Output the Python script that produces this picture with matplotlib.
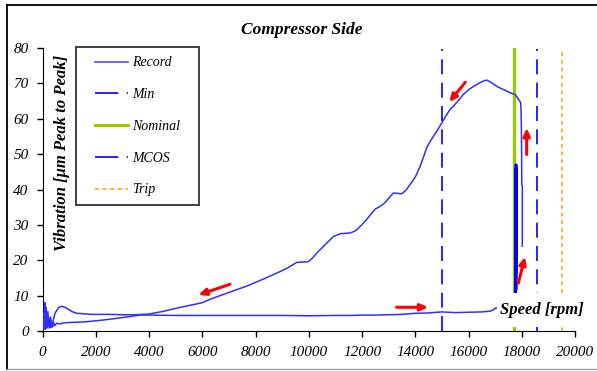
import matplotlib
matplotlib.use("Agg")
import matplotlib.pyplot as plt
from matplotlib.lines import Line2D
from matplotlib.patches import Rectangle
import numpy as np

# run-up: speed [rpm] / vibration [um pk-pk]
runup_rpm = [0, 30, 60, 90, 110, 130, 160, 190, 220, 260, 300, 340, 380, 420, 460, 530,
             650, 800, 1000, 1300, 1600, 2035, 2500, 3000, 3660, 4000, 5000, 6000, 7000,
             8000, 9000, 10000, 11000, 11600, 12000, 12500, 13000, 13500, 14000, 14500,
             15000, 15500, 16000, 16500, 16800, 16950, 17000, 17300, 17600, 17760]
runup_vib = [0.5, 5.0, 1.0, 8.0, 2.0, 6.0, 0.8, 4.5, 1.5, 3.5, 1.0, 2.8, 1.2, 2.4, 1.5, 2.2,
             2.0, 2.3, 2.4, 2.5, 2.6, 2.9, 3.3, 3.8, 4.5, 4.5, 4.4, 4.4, 4.4,
             4.4, 4.4, 4.3, 4.4, 4.4, 4.5, 4.5, 4.6, 4.7, 5.0, 5.1,
             5.4, 5.2, 5.3, 5.4, 5.6, 6.0, 6.5, 6.5, 6.3, 6.0]

# holding at nominal speed
hold_rpm = [17760, 17785, 17765, 17795, 17770, 17800, 17775, 17790, 17780, 17795]
hold_vib = [6.0, 47.0, 10.0, 44.0, 15.0, 40.0, 20.0, 46.0, 30.0, 12.0]

# overspeed and coast-down
coast_rpm = [18020, 18020, 18000, 17990, 17975, 17960, 17910, 17850, 17747, 17683, 17500,
             17300, 17100, 16900, 16706, 16600, 16432, 16200, 16000, 15806, 15600, 15400,
             15305, 15150, 14993, 14850, 14679, 14550, 14429, 14300, 14179, 14000, 13803,
             13650, 13491, 13350, 13176, 13000, 12850, 12676, 12500, 12364, 12150, 11925,
             11750, 11549, 11350, 11174, 10923, 10600, 10298, 10150, 9984, 9800, 9547,
             9200, 8920, 8300, 7670, 7000, 6300, 6000, 5000, 4500, 4000, 3500, 3000, 2500,
             2000, 1847, 1500, 1284, 1100, 900, 720, 600, 470, 405, 350, 300, 250, 200,
             160, 130, 100, 80, 60, 40, 20, 0]
coast_vib = [24.0, 41.0, 41.4, 55.0, 61.8, 64.5, 65.2, 65.8, 66.9, 67.0, 67.6,
             68.3, 69.0, 70.0, 70.9, 70.8, 70.2, 69.2, 68.2, 66.9, 65.0, 63.3,
             62.6, 60.8, 58.8, 57.0, 55.0, 53.5, 51.8, 49.0, 46.5, 43.5, 41.4,
             39.8, 38.8, 38.9, 39.0, 37.5, 36.2, 35.2, 34.5, 33.3, 31.3, 29.5,
             28.3, 27.7, 27.6, 27.5, 26.7, 24.3, 22.0, 20.7, 19.6, 19.5, 19.4,
             17.8, 16.8, 14.7, 12.7, 10.9, 9.0, 8.0, 6.4, 5.5, 4.8, 4.6, 4.6, 4.7,
             4.7, 4.7, 4.9, 5.0, 5.5, 6.5, 7.0, 6.6, 5.0, 3.1, 1.0, 4.0, 0.8, 5.5,
             1.2, 6.8, 0.5, 4.5, 1.5, 3.0, 0.3, 0.2]

# speed limits [rpm]
min_speed = 15000
nominal_speed = 17700
mcos_speed = 18585
trip_speed = 19500

# direction arrows: (start rpm, start vib, end rpm, end vib)
arrows = [(15880, 70.3, 15270, 64.7),
          (18185, 49.9, 18185, 57.4),
          (17870, 13.5, 18120, 21.0),
          (13300, 6.7, 14490, 6.7),
          (7040, 13.2, 5850, 10.2)]

serif = "Liberation Serif"
rec_color = "#2f2fff"
dash_color = "#0000ff"

fig = plt.figure(figsize=(5.97, 3.71), dpi=100)
ax = fig.add_axes([0.0712, 0.1078, 0.892, 0.7628])

ax.plot(runup_rpm, runup_vib, color=rec_color, lw=1.1, zorder=3)
ax.plot(hold_rpm, hold_vib, color=dash_color, lw=2.0, zorder=3)
ax.plot(coast_rpm, coast_vib, color=rec_color, lw=1.1, zorder=3)

ax.plot([min_speed, min_speed], [0, 79.6], color=dash_color, lw=1.2, dashes=(9, 5))
ax.plot([nominal_speed, nominal_speed], [0, 80], color="#99cc00", lw=2.4, zorder=2)
ax.plot([mcos_speed, mcos_speed], [0, 79.6], color=dash_color, lw=1.2, dashes=(9, 5))
ax.plot([trip_speed, trip_speed], [0, 79.1], color="#ff9900", lw=1.1, dashes=(2.5, 2.5))

for x0, y0, x1, y1 in arrows:
    ax.annotate("", xy=(x1, y1), xytext=(x0, y0),
                arrowprops=dict(arrowstyle="-|>,head_length=0.45,head_width=0.2",
                                color="red", lw=2.2, shrinkA=0, shrinkB=0), zorder=5)

# white label box over the lines near the axis
ax.add_patch(Rectangle((17070, 1.1), 3570, 9.6, facecolor="white", edgecolor="none",
                       zorder=6, clip_on=False))
ax.text(17190, 6.0, "Speed [rpm]", fontfamily=serif, fontsize=12, fontweight="bold",
        fontstyle="italic", ha="left", va="center", zorder=7)

ax.text(0.037, 0.63, "Vibration [\u03bcm Peak to Peak]", transform=ax.transAxes,
        rotation=90, fontfamily=serif, fontsize=12, fontweight="bold",
        fontstyle="italic", ha="center", va="center")

fig.text(0.506, 0.918, "Compressor Side", fontfamily=serif, fontsize=12.5,
         fontweight="bold", fontstyle="italic", ha="center", va="center")

ax.set_xlim(0, 20000)
ax.set_ylim(0, 80)
ax.set_xticks(np.arange(0, 20001, 2000))
ax.set_yticks(np.arange(0, 81, 10))
ax.spines["top"].set_visible(False)
ax.spines["right"].set_visible(False)
ax.tick_params(direction="out", length=4, width=1)
ax.tick_params(axis="x", pad=7)
ax.tick_params(axis="y", pad=6)
for lab in ax.get_xticklabels() + ax.get_yticklabels():
    lab.set_fontfamily(serif)
    lab.set_fontstyle("italic")
    lab.set_fontsize(11)

# legend with its own frame
handles = [Line2D([], [], color="#5a5aff", lw=1.3),
           Line2D([], [], color=dash_color, lw=1.2, dashes=(14, 5)),
           Line2D([], [], color="#99cc00", lw=2.2),
           Line2D([], [], color=dash_color, lw=1.2, dashes=(14, 5)),
           Line2D([], [], color="#ff9900", lw=1.1, dashes=(2.5, 2.5))]
names = ["Record", "Min", "Nominal", "MCOS", "Trip"]
leg = ax.legend(handles, names, loc="upper left", bbox_to_anchor=(0.088, 0.99),
                frameon=False, handlelength=2.4, handletextpad=0.3, labelspacing=1.35,
                borderaxespad=0, prop=dict(family=serif, style="italic", size=10))
ax.add_patch(Rectangle((0.063, 0.445), 0.231, 0.559, transform=ax.transAxes,
                       facecolor="none", edgecolor="#404040", lw=1.4, clip_on=False))

# outer border of the chart area
fig.add_artist(Line2D([0.0109, 0.0109], [0.0054, 0.9865], color="black", lw=1.3))
fig.add_artist(Line2D([0.0109, 1.0], [0.9865, 0.9865], color="black", lw=1.3))
fig.add_artist(Line2D([0.0109, 1.0], [0.0054, 0.0054], color="#a0a0a0", lw=1.0))

fig.savefig("out.png", dpi=100)
